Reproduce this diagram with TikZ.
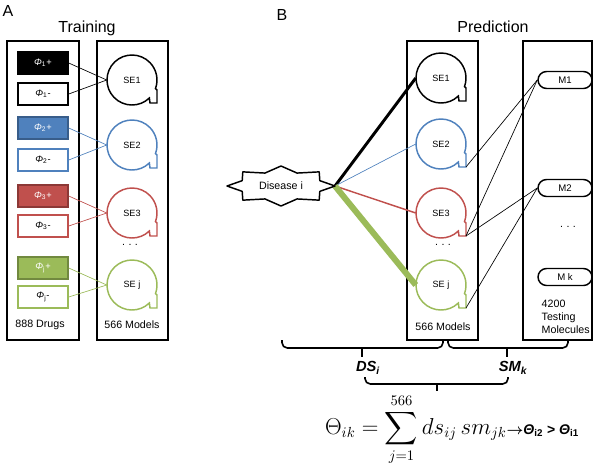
\documentclass[tikz,border=0pt]{standalone}
\usepackage{fontspec}
\setmainfont{Liberation Sans}
\usepackage{amsmath}
\usetikzlibrary{shapes.geometric}

\definecolor{seblue}{HTML}{4F81BD}
\definecolor{sered}{HTML}{C0504D}
\definecolor{segreen}{HTML}{9BBB59}
\definecolor{bluedk}{HTML}{385D8A}
\definecolor{reddk}{HTML}{8C3836}
\definecolor{greendk}{HTML}{71893F}

\newcommand{\phisub}[2]{\textit{Φ}\textsubscript{#1}#2}
\newcommand{\threedots}{.\hspace{2.5pt}.\hspace{2.5pt}.}

\tikzset{
  pics/bubble/.style={code={
    \draw[pic actions, line width=1.1pt] (20:25) -- (25,10) -- (25,23) -- (18,23) -- (46:25)
      arc[start angle=46, end angle=380, radius=25] -- cycle;
    \node[circle, minimum size=37.5pt, inner sep=0, text=black, font=\fontsize{6.8}{8}\selectfont] (-c) {#1};
    \coordinate (-tail) at (25,23);
  }}
}

\begin{document}
\begin{tikzpicture}[x=0.75pt, y=-0.75pt,
  drug/.style={draw, line width=1.1pt, minimum width=37.5pt, minimum height=16.5pt, inner sep=0, font=\fontsize{7}{8}\selectfont},
  mol/.style={draw, line width=1.1pt, rounded corners=6.4pt, minimum width=40.5pt, minimum height=12.75pt, inner sep=0, font=\fontsize{7.2}{8}\selectfont},
  panel/.style={draw, line width=1.5pt},
  lbl/.style={font=\fontsize{8}{9.75}\selectfont},
  title/.style={font=\fontsize{12}{14}\selectfont},
  bold/.style={font=\fontsize{11}{13}\selectfont\bfseries\itshape},
  brace/.style={line width=1.2pt, rounded corners=4pt}]

\useasboundingbox (0,0) rectangle (602,465);

% A: training
\node[title] (ta) at (8,11) {A};
\node[title] (train) at (87,28) {Training};
\draw[panel] (7,41) rectangle (79,340);
\draw[panel] (97,41) rectangle (168,340);

\node[drug, fill=black, text=white] (d1p) at (43,63) {\phisub{1}{+}};
\node[drug] (d1m) at (43,94) {\phisub{1}{-}};
\node[drug, draw=bluedk, fill=seblue, text=white] (d2p) at (43,128) {\phisub{2}{+}};
\node[drug, draw=seblue] (d2m) at (43,160) {\phisub{2}{-}};
\node[drug, draw=reddk, fill=sered, text=white] (d3p) at (43,196) {\phisub{3}{+}};
\node[drug, draw=sered] (d3m) at (43,226) {\phisub{3}{-}};
\node[drug, draw=greendk, fill=segreen, text=white] (d4p) at (43,268) {\phisub{j}{+}};
\node[drug, draw=segreen] (d4m) at (43,297) {\phisub{j}{-}};

\pic[draw=black] (l1) at (132,80) {bubble=SE1};
\pic[draw=seblue] (l2) at (132,145) {bubble=SE2};
\pic[draw=sered] (l3) at (132,213) {bubble=SE3};
\pic[draw=segreen] (l4) at (132,285) {bubble=SE j};
\node[lbl] (ldots) at (130,245) {\threedots};

\draw[line width=0.5pt] (d1p.east) -- (l1-c.west);
\draw[line width=0.5pt] (d1m.east) -- (l1-c.west);
\draw[seblue, line width=0.5pt] (d2p.east) -- (l2-c.west);
\draw[seblue, line width=0.5pt] (d2m.east) -- (l2-c.west);
\draw[sered, line width=0.5pt] (d3p.east) -- (l3-c.west);
\draw[sered, line width=0.5pt] (d3m.east) -- (l3-c.west);
\draw[segreen, line width=0.5pt] (d4p.east) -- (l4-c.west);
\draw[segreen, line width=0.5pt] (d4m.east) -- (l4-c.west);

\node[lbl] (drugs) at (40,325) {888 Drugs};
\node[lbl] (lmod) at (132,325) {566 Models};

% B: prediction
\node[title] (tb) at (282,15) {B};
\node[title] (pred) at (493,27) {Prediction};
\draw[panel] (407,41) rectangle (478,340);
\draw[panel] (523,41) rectangle (592,340);

\pic[draw=black] (r1) at (441,78) {bubble=SE1};
\pic[draw=seblue] (r2) at (441,144) {bubble=SE2};
\pic[draw=sered] (r3) at (441,213) {bubble=SE3};
\pic[draw=segreen] (r4) at (441,285) {bubble=SE j};
\node[lbl] (rdots) at (443,245) {\threedots};
\node[lbl] (rmod) at (443,327) {566 Models};

\node[mol] (m1) at (565,80) {M1};
\node[mol] (m2) at (565,188) {M2};
\node[lbl] (mdots) at (568,227) {\threedots};
\node[mol] (mk) at (565,277) {M k};
\node[lbl, align=left, anchor=west] (mtxt) at (537,317) {4200\\Testing\\Molecules};

\draw[line width=0.5pt] (m1.west) -- (r2-tail);
\draw[line width=0.5pt] (m1.west) -- (r3-tail);
\draw[line width=0.5pt] (m2.west) -- (r3-tail);
\draw[line width=0.5pt] (m2.west) -- (r4-tail);

\node[font=\fontsize{8}{9}\selectfont] (dis) at (281,186) {Disease i};
\coordinate (distip) at (335,186);
\draw[line width=2.2pt] (distip) -- (r1-c.west);
\draw[seblue, line width=0.5pt] (distip) -- (r2-c.west);
\draw[sered, line width=1.1pt] (distip) -- (r3-c.west);
\draw[segreen, line width=4.5pt] (distip) -- (r4-c.west);
\draw[line width=1.1pt, line join=round, shift={(dis.center)}] (0:54 and 20)
  \foreach \a in {0,45,...,315} {-- (\a:54 and 20) -- ({\a+22.5}:42 and 14)} -- cycle;

% braces and score
\draw[brace] (282,340) -- (282,348) -- (443,348) -- (443,340);
\draw[line width=1.2pt] (362,348) -- (362,357);
\draw[brace] (448,340) -- (448,348) -- (568,348) -- (568,340);
\draw[line width=1.2pt] (507,348) -- (507,357);
\node[bold] (ds) at (368,368) {DS\textsubscript{i}};
\node[bold] (sm) at (513,368) {SM\textsubscript{k}};
\draw[brace] (365,377) -- (365,384) -- (508,384) -- (508,377);
\draw[line width=1.2pt] (437,384) -- (437,391);

\node (eq) at (452,430) {\fontsize{16}{19}\selectfont$\displaystyle \Theta_{ik}=\sum_{j=1}^{566} ds_{ij}\,sm_{jk}$\fontsize{10.5}{12}\selectfont\bfseries{\boldmath$\rightarrow$}\textit{Θ}\textsubscript{i2} > \textit{Θ}\textsubscript{i1}};
\end{tikzpicture}
\end{document}
